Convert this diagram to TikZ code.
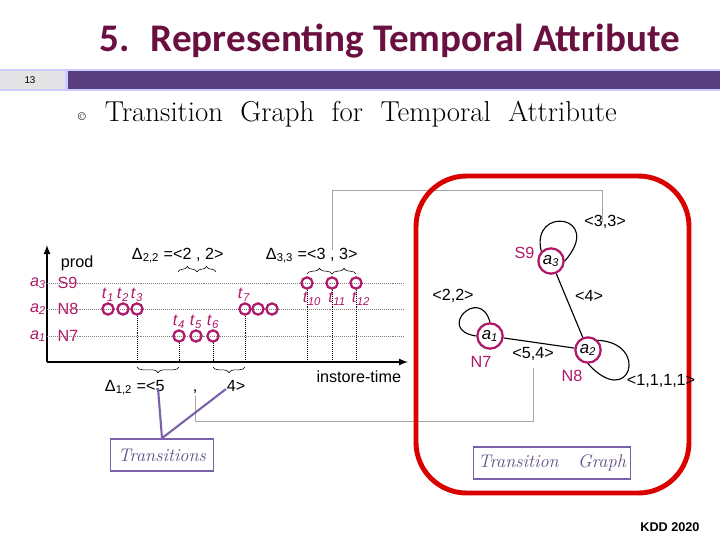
\documentclass[tikz,border=0pt]{standalone}
\usepackage{fontspec}
\setsansfont{Liberation Sans}
\newfontfamily\calib{Carlito}
\usetikzlibrary{decorations.pathreplacing}
\definecolor{mag}{HTML}{B0186A}
\definecolor{titlec}{HTML}{6A1040}
\definecolor{barc}{HTML}{5A3F7F}
\definecolor{boxc}{HTML}{7B62A8}
\newcommand{\tsub}[2]{\textit{#1}\textsubscript{\itshape #2}}
\tikzset{
  pt/.style={circle, draw=mag, line width=1.6pt, inner sep=0pt, minimum size=8pt},
  tlab/.style={text=mag, font=\sffamily\fontsize{11.5}{13}\selectfont, inner sep=1pt},
  row/.style={densely dotted, gray},
  drop/.style={densely dotted, black},
  brc/.style={decorate, decoration={brace, amplitude=4pt}},
  vert/.style={circle, draw=mag, line width=1.6pt, inner sep=0pt, minimum size=18pt, font=\sffamily\large},
  lab/.style={font=\sffamily\fontsize{11.5}{13}\selectfont},
  tag/.style={draw=boxc, line width=1.2pt, text=boxc!80!black, font=\itshape\fontsize{13}{15}\selectfont}
}
\begin{document}
\begin{tikzpicture}[x=0.025cm, y=-0.025cm]
  \useasboundingbox (0,0) rectangle (720,540);
  % title and band
  \node[anchor=base west, text=titlec, font=\calib\bfseries\fontsize{27.8}{30}\selectfont] (title) at (95,51) {5.~ Representing Temporal Attribute};
  \fill[blue!20] (0,69) rectangle (720,91);
  \fill[blue!5!gray!20] (0,71) rectangle (65,89);
  \fill[barc] (68,71) rectangle (720,89);
  \node[font=\sffamily\scriptsize] (pg) at (30,80) {13};
  \node[font=\footnotesize] (bul) at (82,117) {\textcopyright};
  \node[anchor=west, font=\fontsize{20.5}{22}\selectfont] (sub) at (100,114) {Transition~ Graph~ for~ Temporal~ Attribute};
  % axes
  \coordinate (o) at (47,362);
  \draw[line width=1.2pt, -latex] (o) -- (47,245) coordinate (ytop);
  \draw[line width=1.2pt, -latex] (o) -- (408,362) coordinate (xend);
  \node[lab, anchor=west] (prod) at (56,263) {prod};
  \node[lab, anchor=north east] (itime) at (406,366) {instore-time};
  \foreach \n/\a/\s/\y in {s9/3/S9/283, n8/2/N8/309, n7/1/N7/336} {
    \draw[row] (47,\y) -- (405,\y);
    \node[tlab] (a\n) at (38,\y) {\tsub{a}{\a}};
    \node[tlab, anchor=west] (l\n) at (56,\y) {\s};
  }
  % transitions
  \foreach \i/\x in {1/108, 2/123, 3/137} {
    \node[pt] (p\i) at (\x,309) {};
    \node[tlab] (t\i) at (\x,295) {\tsub{t}{\i}};
  }
  \foreach \i/\x in {4/179, 5/196, 6/213} {
    \node[pt] (p\i) at (\x,336) {};
    \node[tlab] (t\i) at (\x,322) {\tsub{t}{\i}};
  }
  \foreach \i/\x in {7/245, 8/258, 9/272} \node[pt] (p\i) at (\x,309) {};
  \node[tlab] (t7) at (244,295) {\tsub{t}{7}};
  \foreach \i/\x in {10/307, 11/332, 12/356} {
    \node[pt] (p\i) at (\x,283) {};
    \node[tlab] (t\i) at (\x+5,299) {\tsub{t}{\i}};
  }
  \foreach \i in {3,4,6,7,10,11,12} \draw[drop] (p\i) -- (p\i |- o);
  % braces
  \draw[brc] (178,272) -- (197,272);
  \draw[brc] (197,272) -- (216,272);
  \draw[brc] (307,274) -- (332,274);
  \draw[brc] (332,274) -- (356,274);
  \draw[brc] (179,367) -- (137,367);
  \draw[brc] (245,367) -- (213,367);
  \node[lab, anchor=base west] (d22) at (127,259) {Δ\textsubscript{2,2} =<2 , 2>};
  \node[lab, anchor=base west] (d33) at (261,259) {Δ\textsubscript{3,3} =<3 , 3>};
  \node[lab, anchor=base west] (d12) at (100,391) {Δ\textsubscript{1,2} =<5};
  \node[lab, anchor=base] (comma) at (195,391) {,};
  \node[lab, anchor=base] (d12b) at (236,391) {4>};
  % grey links
  \draw[gray!70] (332,250) -- (332,190) -- (602,190) -- (602,222);
  \draw[gray!70] (195,396) -- (195,421) -- (533,421) -- (533,368);
  % graph
  \draw[red!85!black, line width=3.5pt, rounded corners=36pt] (416,176) rectangle (689,493);
  \node[vert] (v3) at (551,261) {\tsub{a}{3}};
  \node[vert] (v1) at (490,336) {\tsub{a}{1}};
  \node[vert] (v2) at (588,350) {\tsub{a}{2}};
  \draw[thick] (v3) -- (v2) (v1) -- (v2);
  \draw[thick] (v3.north west) .. controls (530,205) and (605,215) .. (v3.east);
  \draw[thick] (v1.west) .. controls (435,330) and (480,285) .. (v1.north);
  \draw[thick] (v2.north east) .. controls (650,343) and (630,410) .. (v2.south);
  \node[tlab, anchor=east] (s9) at (536,253) {S9};
  \node[tlab] (n7) at (481,362) {N7};
  \node[tlab] (n8) at (572,376) {N8};
  \node[lab] (e33) at (605,222) {<3,3>};
  \node[lab] (e22) at (453,296) {<2,2>};
  \node[lab] (e4) at (589,296) {<4>};
  \node[lab] (e54) at (533,354) {<5,4>};
  \node[lab] (e1111) at (661,381) {<1,1,1,1>};
  % tags
  \node[tag, minimum width=103*0.025cm, minimum height=32*0.025cm] (trans) at (162,455) {Transitions};
  \node[tag, minimum width=149*0.025cm, minimum height=32*0.025cm] (tgraph) at (552,463) {Transition~~ Graph};
  \draw[boxc, line width=1.5pt] (158,388) -- (trans.north);
  \draw[boxc, line width=1.5pt] (226,389) -- (trans.north);
  \node[font=\sffamily\bfseries\small] (kdd) at (670,527) {KDD 2020};
\end{tikzpicture}
\end{document}
